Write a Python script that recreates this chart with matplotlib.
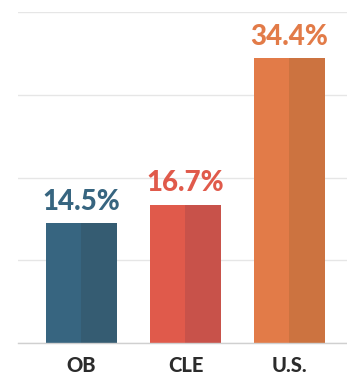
import numpy as np
import matplotlib.pyplot as plt
from matplotlib import font_manager as fm

# Share of residents, by area
areas = ['OB', 'CLE', 'U.S.']
shares = [14.5, 16.7, 34.4]
labels = ['14.5%', '16.7%', '34.4%']

# two-tone fill: lighter left half, darker right half
light = ['#376580', '#e05a4b', '#e27b48']
dark = ['#355c72', '#c8524a', '#cc7340']

# pick the Lato heavy face directly so the weight is guaranteed
heavy_path = next((f.fname for f in fm.fontManager.ttflist
                   if f.fname.endswith('Lato-Heavy.ttf')), None)
if heavy_path:
    val_font = fm.FontProperties(fname=heavy_path, size=20)
    tick_font = fm.FontProperties(fname=heavy_path, size=14.5)
else:
    val_font = fm.FontProperties(family='DejaVu Sans', weight='bold', size=17)
    tick_font = fm.FontProperties(family='DejaVu Sans', weight='bold', size=13)

fig = plt.figure(figsize=(3.47, 3.73), dpi=100)
ax = fig.add_axes([18 / 347, 30 / 373, 329 / 347, 331 / 373])

x = np.arange(len(areas))
w = 0.68
ax.bar(x - w / 4, shares, w / 2, color=light, zorder=2)
ax.bar(x + w / 4, shares, w / 2, color=dark, zorder=2)

for xi, v, lab, c in zip(x, shares, labels, light):
    ax.annotate(lab, (xi, v), xytext=(0, 6), textcoords='offset points',
                ha='center', va='bottom', fontproperties=val_font, color=c)

ax.set_xlim(-0.61, 2.553)
ax.set_ylim(0, 40)
ax.set_yticks([0, 10, 20, 30, 40])
ax.yaxis.grid(True, color='#e6e6e6', linewidth=1.0, zorder=0)
ax.set_axisbelow(True)
ax.tick_params(axis='y', left=False, labelleft=False)
ax.set_xticks(x)
ax.set_xticklabels(areas, color='#2b2b2b')
for t in ax.get_xticklabels():
    t.set_fontproperties(tick_font)
ax.tick_params(axis='x', length=0, pad=9)
for s in ['top', 'left', 'right']:
    ax.spines[s].set_visible(False)
ax.spines['bottom'].set_color('#d0d0d0')
ax.spines['bottom'].set_linewidth(1.0)

fig.savefig('out.png', dpi=100)
